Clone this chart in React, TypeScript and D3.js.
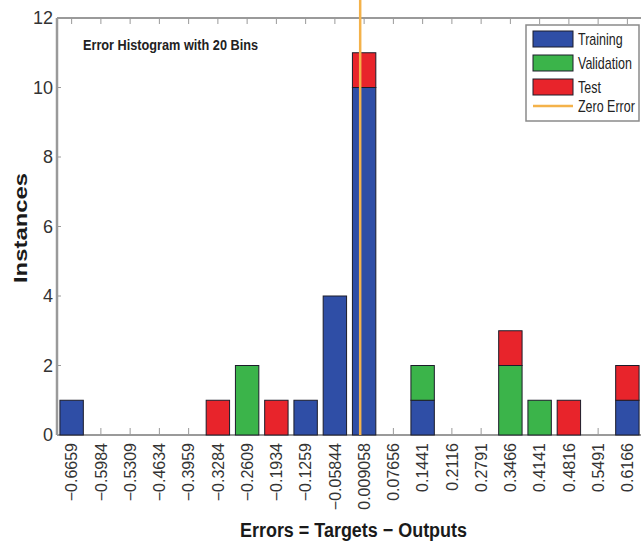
import { useEffect, useRef } from 'react';
import * as d3 from 'd3';

// bin centers as printed under the axis
const binLabels = [
  '\u22120.6659', '\u22120.5984', '\u22120.5309', '\u22120.4634', '\u22120.3959',
  '\u22120.3284', '\u22120.2609', '\u22120.1934', '\u22120.1259', '\u22120.05844',
  '0.009058', '0.07656', '0.1441', '0.2116', '0.2791',
  '0.3466', '0.4141', '0.4816', '0.5491', '0.6166',
];
const binCenters = [
  -0.6659, -0.5984, -0.5309, -0.4634, -0.3959, -0.3284, -0.2609, -0.1934, -0.1259, -0.05844,
  0.009058, 0.07656, 0.1441, 0.2116, 0.2791, 0.3466, 0.4141, 0.4816, 0.5491, 0.6166,
];
const training = [1, 0, 0, 0, 0, 0, 0, 0, 1, 4, 10, 0, 1, 0, 0, 0, 0, 0, 0, 1];
const validation = [0, 0, 0, 0, 0, 0, 2, 0, 0, 0, 0, 0, 1, 0, 0, 2, 1, 0, 0, 0];
const test = [0, 0, 0, 0, 0, 1, 0, 1, 0, 0, 1, 0, 0, 0, 0, 1, 0, 1, 0, 1];
const yTicks = [0, 2, 4, 6, 8, 10, 12];
const seriesNames = ['Training', 'Validation', 'Test'];
const seriesColors = ['#2f4ea6', '#3bb44a', '#e8242b'];
const zeroColor = '#f4b24a';

export default function App() {
  const svgRef = useRef<SVGSVGElement | null>(null);

  useEffect(() => {
    if (!svgRef.current) return;
    const svg = d3.select(svgRef.current);
    svg.selectAll('*').remove();

    const width = 641;
    const height = 542;
    const left = 57;
    const right = 642;
    const top = 18;
    const bottom = 435;
    const font = 'Liberation Sans, Arial, sans-serif';

    svg.attr('width', width).attr('height', height);

    const x = d3
      .scaleBand<string>()
      .domain(binLabels)
      .range([left, right])
      .paddingInner(0.2)
      .paddingOuter(0.1);
    const half = x.bandwidth() / 2;
    const xVal = d3
      .scaleLinear()
      .domain([binCenters[0], binCenters[binCenters.length - 1]])
      .range([x(binLabels[0])! + half, x(binLabels[binLabels.length - 1])! + half]);

    const y = d3.scaleLinear().domain([0, 12]).range([bottom, top]);

    // stacked data
    const rows = binLabels.map((b, i) => ({
      bin: b,
      Training: training[i],
      Validation: validation[i],
      Test: test[i],
    }));
    const stacked = d3.stack<any>().keys(seriesNames)(rows);

    // axes frame
    const axisColor = '#9a9a9a';
    svg.append('line')
      .attr('x1', left).attr('x2', right).attr('y1', top).attr('y2', top)
      .attr('stroke', axisColor).attr('stroke-width', 2);
    svg.append('line')
      .attr('x1', left).attr('x2', right).attr('y1', bottom).attr('y2', bottom)
      .attr('stroke', axisColor).attr('stroke-width', 2);
    svg.append('line')
      .attr('x1', left).attr('x2', left).attr('y1', top).attr('y2', bottom)
      .attr('stroke', axisColor).attr('stroke-width', 2.5);

    // top & bottom ticks
    svg.append('g')
      .selectAll('line.tt')
      .data(binLabels)
      .join('line')
      .attr('x1', (d) => x(d)! + half)
      .attr('x2', (d) => x(d)! + half)
      .attr('y1', top)
      .attr('y2', top + 6)
      .attr('stroke', axisColor)
      .attr('stroke-width', 1);
    svg.append('g')
      .selectAll('line.bt')
      .data(binLabels)
      .join('line')
      .attr('x1', (d) => x(d)! + half)
      .attr('x2', (d) => x(d)! + half)
      .attr('y1', bottom)
      .attr('y2', bottom - 7)
      .attr('stroke', axisColor)
      .attr('stroke-width', 1);

    // y ticks
    svg.append('g')
      .selectAll('line')
      .data(yTicks)
      .join('line')
      .attr('x1', left)
      .attr('x2', left + 4)
      .attr('y1', (d) => y(d))
      .attr('y2', (d) => y(d))
      .attr('stroke', axisColor);
    svg.append('g')
      .selectAll('text')
      .data(yTicks)
      .join('text')
      .attr('x', left - 4)
      .attr('y', (d) => y(d))
      .attr('dy', '0.36em')
      .attr('text-anchor', 'end')
      .attr('font-family', font)
      .attr('font-size', 18)
      .attr('fill', '#333')
      .text((d) => d);

    // bars
    svg.append('g')
      .selectAll('g')
      .data(stacked)
      .join('g')
      .attr('fill', (_d, i) => seriesColors[i])
      .selectAll('rect')
      .data((d) => d.filter((s) => s[1] > s[0]))
      .join('rect')
      .attr('x', (d) => x(d.data.bin)!)
      .attr('width', x.bandwidth())
      .attr('y', (d) => y(d[1]))
      .attr('height', (d) => y(d[0]) - y(d[1]))
      .attr('stroke', '#1c1c2a')
      .attr('stroke-width', 1);

    // zero error line
    svg.append('line')
      .attr('x1', xVal(0)).attr('x2', xVal(0))
      .attr('y1', 0).attr('y2', bottom)
      .attr('stroke', zeroColor)
      .attr('stroke-width', 2.5);

    // x tick labels
    svg.append('g')
      .selectAll('text')
      .data(binLabels)
      .join('text')
      .attr('transform', (d) => `translate(${x(d)! + half},${bottom + 8}) rotate(-90)`)
      .attr('dy', '0.36em')
      .attr('text-anchor', 'end')
      .attr('font-family', font)
      .attr('font-size', 16)
      .attr('fill', '#333')
      .text((d) => d);

    // axis titles
    svg.append('text')
      .attr('x', 240)
      .attr('y', 537)
      .attr('font-family', font)
      .attr('font-weight', 'bold')
      .attr('font-size', 20)
      .attr('textLength', 227)
      .attr('lengthAdjust', 'spacingAndGlyphs')
      .attr('fill', '#1a1a1a')
      .text('Errors = Targets \u2212 Outputs');

    svg.append('text')
      .attr('transform', 'translate(27,283) rotate(-90)')
      .attr('font-family', font)
      .attr('font-weight', 'bold')
      .attr('font-size', 19)
      .attr('textLength', 110)
      .attr('lengthAdjust', 'spacingAndGlyphs')
      .attr('fill', '#1a1a1a')
      .text('Instances');

    svg.append('text')
      .attr('x', 83)
      .attr('y', 50)
      .attr('font-family', font)
      .attr('font-weight', 'bold')
      .attr('font-size', 15)
      .attr('textLength', 175)
      .attr('lengthAdjust', 'spacingAndGlyphs')
      .attr('fill', '#222')
      .text('Error Histogram with 20 Bins');

    // legend
    const lg = svg.append('g').attr('transform', 'translate(526,25)');
    lg.append('rect')
      .attr('width', 113)
      .attr('height', 96)
      .attr('fill', '#fff')
      .attr('stroke', '#8a8a8a')
      .attr('stroke-width', 1.5);
    const legendText = (label: string, cy: number) =>
      lg.append('text')
        .attr('transform', `translate(52,${cy}) scale(0.78,1)`)
        .attr('dy', '0.36em')
        .attr('font-family', font)
        .attr('font-size', 16)
        .attr('fill', '#222')
        .text(label);
    seriesNames.forEach((name, i) => {
      const cy = 14 + i * 24;
      lg.append('rect')
        .attr('x', 7)
        .attr('y', cy - 8)
        .attr('width', 40)
        .attr('height', 16)
        .attr('fill', seriesColors[i])
        .attr('stroke', '#1c1c2a')
        .attr('stroke-width', 1);
      legendText(name, cy);
    });
    lg.append('line')
      .attr('x1', 7).attr('x2', 47).attr('y1', 81).attr('y2', 81)
      .attr('stroke', zeroColor).attr('stroke-width', 2.5);
    legendText('Zero Error', 81);
  }, []);

  return (
    <div style={{ position: 'absolute', left: 0, top: 0 }}>
      <svg ref={svgRef} style={{ display: 'block' }}></svg>
    </div>
  );
}
